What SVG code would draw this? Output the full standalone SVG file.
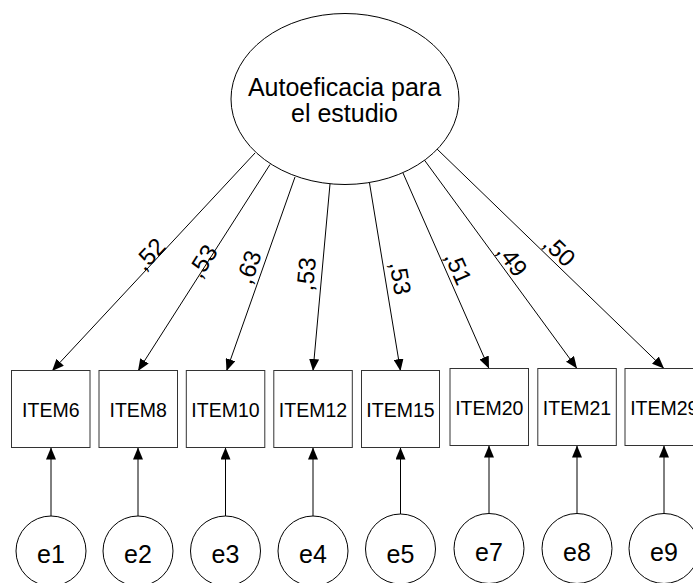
<svg xmlns="http://www.w3.org/2000/svg" width="693" height="583" viewBox="0 0 693 583">
<style>
.shape{fill:#fff;stroke:#000;stroke-width:1}
.box{fill:#fff;stroke:#333;stroke-width:1}
.t{font-family:"Liberation Sans",Arial,sans-serif;fill:#000;text-anchor:middle}
.big{font-size:25px}
.item{font-size:19.5px}
.lbl{font-size:24px;dominant-baseline:central}
.edge{stroke:#000;stroke-width:1;fill:none;marker-end:url(#ah)}
</style>
<defs>
<marker id="ah" markerUnits="userSpaceOnUse" markerWidth="12" markerHeight="10" refX="12" refY="5" orient="auto">
<path d="M0,0 L12,5 L0,10 z" fill="#000"/>
</marker>
</defs>
<rect width="693" height="583" fill="#fff"/>
<g id="connectors">
<line class="edge" x1="255" y1="153" x2="52" y2="371"/>
<line class="edge" x1="270" y1="164.5" x2="138" y2="371"/>
<line class="edge" x1="295" y1="177" x2="226.5" y2="371"/>
<line class="edge" x1="330" y1="184" x2="313" y2="371"/>
<line class="edge" x1="369.5" y1="183" x2="400.5" y2="371"/>
<line class="edge" x1="403" y1="173" x2="489" y2="368.5"/>
<line class="edge" x1="424" y1="159.5" x2="577" y2="368.5"/>
<line class="edge" x1="437" y1="149" x2="664" y2="368.5"/>
<line class="edge" x1="51" y1="516" x2="51" y2="447.5"/>
<line class="edge" x1="138" y1="516" x2="138" y2="447.5"/>
<line class="edge" x1="225.5" y1="516" x2="225.5" y2="447.5"/>
<line class="edge" x1="313" y1="516" x2="313" y2="447.5"/>
<line class="edge" x1="400.5" y1="514" x2="400.5" y2="447.5"/>
<line class="edge" x1="489" y1="513.5" x2="489" y2="445.5"/>
<line class="edge" x1="577" y1="513.5" x2="577" y2="445.5"/>
<line class="edge" x1="664" y1="513.5" x2="664" y2="445.5"/>
<text class="t lbl" transform="translate(149.5,254) rotate(-47)">,52</text>
<text class="t lbl" transform="translate(202.5,261) rotate(-57.5)">,53</text>
<text class="t lbl" transform="translate(248.5,267) rotate(-70.4)">,63</text>
<text class="t lbl" transform="translate(306,274) rotate(-84.8)">,53</text>
<text class="t lbl" transform="translate(400.5,278) rotate(80.6)">,53</text>
<text class="t lbl" transform="translate(458.5,268) rotate(66.2)">,51</text>
<text class="t lbl" transform="translate(512.5,260) rotate(53.8)">,49</text>
<text class="t lbl" transform="translate(559.5,250.5) rotate(44)">,50</text>
</g>
<g id="autoeficacia">
<ellipse class="shape" cx="345" cy="99" rx="114" ry="85.5"/>
<text class="t big" x="344.5" y="95.5">Autoeficacia para</text>
<text class="t big" x="344.5" y="121.5">el estudio</text>
</g>
<g id="item6"><rect class="box" x="11.5" y="370.5" width="78.5" height="77"/><text class="t item" x="50.8" y="417">ITEM6</text></g>
<g id="item8"><rect class="box" x="99" y="370.5" width="78.5" height="77"/><text class="t item" x="138.2" y="417">ITEM8</text></g>
<g id="item10"><rect class="box" x="186.3" y="370.5" width="78.5" height="77"/><text class="t item" x="225.5" y="417">ITEM10</text></g>
<g id="item12"><rect class="box" x="273.8" y="370.5" width="78.5" height="77"/><text class="t item" x="313" y="417">ITEM12</text></g>
<g id="item15"><rect class="box" x="361.5" y="370.5" width="78" height="77"/><text class="t item" x="400.5" y="417">ITEM15</text></g>
<g id="item20"><rect class="box" x="450" y="368.5" width="78.5" height="77"/><text class="t item" x="489.3" y="415">ITEM20</text></g>
<g id="item21"><rect class="box" x="537.8" y="368.5" width="78.5" height="77"/><text class="t item" x="577" y="415">ITEM21</text></g>
<g id="item29"><rect class="box" x="625" y="368.5" width="78.5" height="77"/><text class="t item" x="664.3" y="415">ITEM29</text></g>
<g id="e1"><circle class="shape" cx="51" cy="551" r="35"/><text class="t big" x="51" y="563">e1</text></g>
<g id="e2"><circle class="shape" cx="138" cy="551" r="35"/><text class="t big" x="138" y="563">e2</text></g>
<g id="e3"><circle class="shape" cx="225.5" cy="551" r="35"/><text class="t big" x="225.5" y="563">e3</text></g>
<g id="e4"><circle class="shape" cx="313" cy="551" r="35"/><text class="t big" x="313" y="563">e4</text></g>
<g id="e5"><circle class="shape" cx="400.5" cy="549" r="35"/><text class="t big" x="400.5" y="563">e5</text></g>
<g id="e7"><circle class="shape" cx="489" cy="548.5" r="35"/><text class="t big" x="489" y="561">e7</text></g>
<g id="e8"><circle class="shape" cx="577" cy="548.5" r="35"/><text class="t big" x="577" y="561">e8</text></g>
<g id="e9"><circle class="shape" cx="664" cy="548.5" r="35"/><text class="t big" x="664" y="561">e9</text></g>
</svg>
